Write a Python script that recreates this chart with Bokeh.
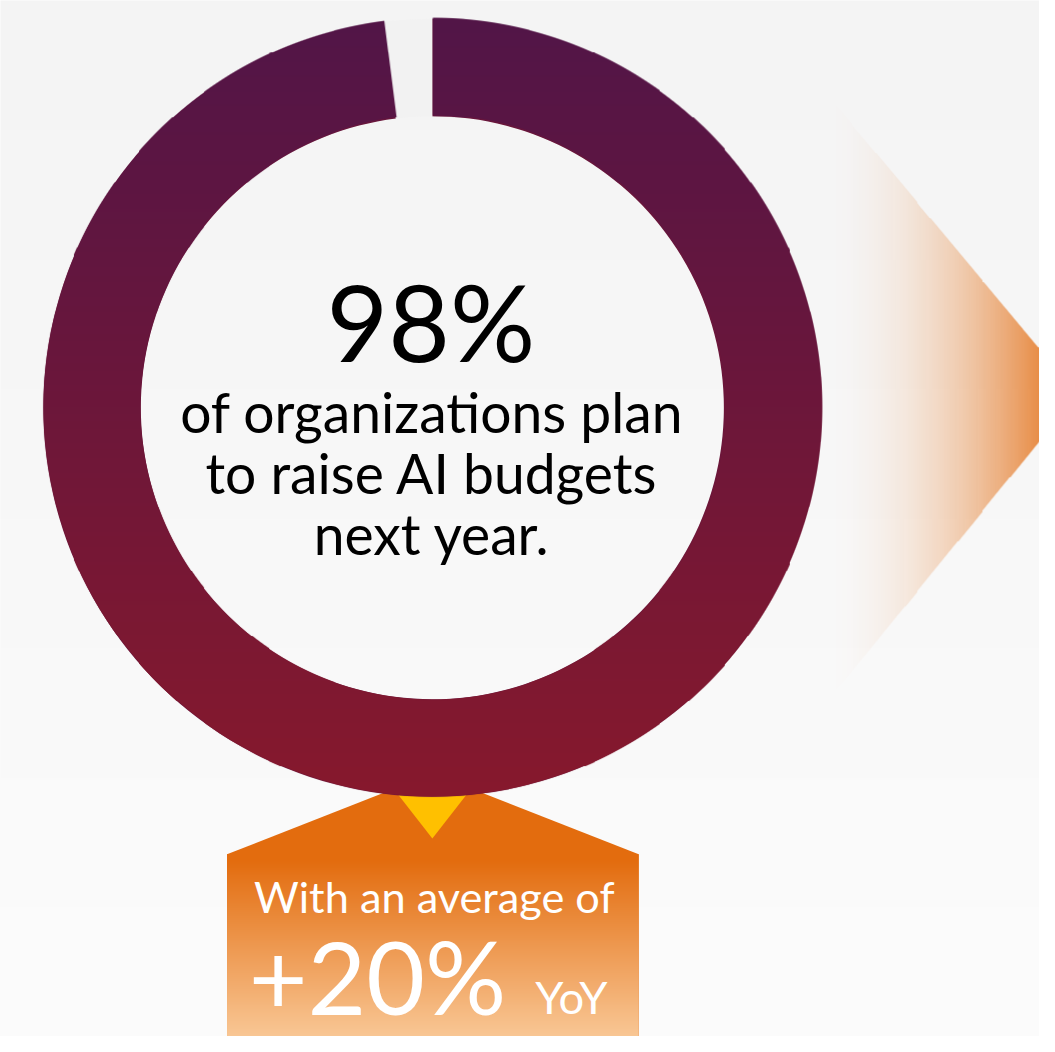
import numpy as np
from bokeh.plotting import figure
from bokeh.models import ColumnDataSource
from bokeh.core.properties import value
from bokeh.embed import file_html
from bokeh.resources import INLINE

# ---------------- data ----------------
share_labels = ["Plan to raise AI budgets", "Do not plan to raise"]
share_values = [98, 2]
headline_text = ["98%"]
body_lines = ["of organizations plan", "to raise AI budgets", "next year."]
avg_intro = ["With an average of"]
avg_value = ["+20%"]
avg_unit = ["YoY"]

# ---------------- canvas ----------------
W, H = 1039, 1036
RW, RH = 1055, 1052          # design space (reference pixels)
K = W / RW                    # px per design unit


def Y(sy):
    return RH - sy


def hexrgb(h):
    return np.array([int(h[i:i + 2], 16) for i in (1, 3, 5)], dtype=float)


def rgba_image(rgb, a):
    h, w = a.shape
    img = np.empty((h, w), dtype=np.uint32)
    v = img.view(dtype=np.uint8).reshape((h, w, 4))
    v[..., 0] = np.broadcast_to(rgb[..., 0], (h, w)).astype(np.uint8)
    v[..., 1] = np.broadcast_to(rgb[..., 1], (h, w)).astype(np.uint8)
    v[..., 2] = np.broadcast_to(rgb[..., 2], (h, w)).astype(np.uint8)
    v[..., 3] = np.clip(a * 255, 0, 255).astype(np.uint8)
    return img


def grid(x0, x1, y0, y1):
    xs = np.arange(x0, x1) + 0.5
    ys = np.arange(y1, y0, -1) - 0.5  # bottom row first
    return np.meshgrid(xs, ys)


def vgrad(sy, y0, y1, c0, c1):
    t = np.clip((sy - y0) / (y1 - y0), 0, 1)[..., None]
    return hexrgb(c0) * (1 - t) + hexrgb(c1) * t


p = figure(width=W, height=H, x_range=(0, RW), y_range=(0, RH),
           output_backend="svg", toolbar_location=None, min_border=0,
           x_axis_location=None, y_axis_location=None,
           background_fill_color="#f7f7f7", border_fill_color="#f7f7f7",
           outline_line_color=None)
p.grid.visible = False

# background soft gradient
X, S = grid(0, 1, 0, RH)
bg = vgrad(S, 0, RH, "#f4f4f4", "#fcfcfc")
p.image_rgba(image=[rgba_image(bg, np.ones_like(S))], x=0, y=0, dw=RW, dh=RH)

# right arrow (fading orange triangle), tip just past the right edge
X, S = grid(700, RW, 40, 780)
st, sb = 1.20, 1.23
y_top = 355 - (RW - X) * st
y_bot = 447 + (RW - X) * sb
d_top = (S - y_top) / np.sqrt(1 + st ** 2)
d_bot = (y_bot - S) / np.sqrt(1 + sb ** 2)
aa = np.clip(np.minimum(d_top, d_bot) + 0.5, 0, 1)
f = np.clip((X - 832) / 238, 0, 1)
tri_rgb = np.broadcast_to(hexrgb("#e57d2c"), X.shape + (3,))
p.image_rgba(image=[rgba_image(tri_rgb, f ** 2 * aa)], x=700, y=Y(780), dw=RW - 700, dh=740)

# bottom callout (pentagon) + gradient body
p.patch(x=[230, 439, 648, 648, 230], y=[Y(867), Y(785), Y(867), Y(RH), Y(RH)],
        fill_color="#e36c0e", line_color=None)
X, S = grid(230, 648, 867, RH)
cg = vgrad(S, 872, RH, "#e36c0e", "#f9c795")
p.image_rgba(image=[rgba_image(cg, np.ones_like(S))], x=230, y=0, dw=418, dh=RH - 867)

# yellow pointer
p.patch(x=[391, 486, 438.5], y=[Y(790), Y(790), Y(851)], fill_color="#ffc000", line_color=None)

# ---------------- donut ----------------
cx, cy = 438.5, 413.5
R_out, R_in = 395.0, 296.0
vals = np.array(share_values, dtype=float)
frac = vals / vals.sum()
cum = np.concatenate([[0], np.cumsum(frac)[:-1]])
start = np.pi / 2 - 2 * np.pi * cum
end = start - 2 * np.pi * frac
src = ColumnDataSource(dict(label=share_labels, value=share_values, start=start, end=end,
                            color=["#6c173b", "#f2f2f2"]))
p.annular_wedge(x=cx, y=Y(cy), inner_radius=R_in, outer_radius=R_out,
                start_angle="start", end_angle="end", direction="clock",
                fill_color="color", line_color=None, source=src)

# vertical gradient over the main slice
X, S = grid(42, 835, 17, 810)
dx, dy = X - cx, -(S - cy)
r = np.hypot(dx, dy)
theta = np.arctan2(dy, dx)
a_cw = np.mod(np.pi / 2 - theta, 2 * np.pi)
L0 = 2 * np.pi * frac[0]
inside = a_cw <= L0
d_ang = np.where(inside, np.minimum(a_cw, L0 - a_cw), -np.minimum(a_cw - L0, 2 * np.pi - a_cw)) * r
alpha = (np.clip(R_out - r + 0.5, 0, 1) * np.clip(r - R_in + 0.5, 0, 1)
         * np.clip(d_ang + 0.5, 0, 1))
dg = vgrad(S, 18, 808, "#521548", "#87192d")
p.image_rgba(image=[rgba_image(dg, alpha)], x=42, y=Y(810), dw=793, dh=793)

# ---------------- texts ----------------
FONT = value("Lato")
SH = 0.36  # compensation of the renderer's baseline placement (fraction of size)


def fs(sz):
    return f"{sz * K:.1f}px"


def base(sy, sz):
    return Y(sy - SH * sz)


p.text(x=[437], y=[base(364, 108)], text=headline_text, text_font=FONT, text_font_size=fs(108),
       text_align="center", text_baseline="alphabetic", text_color="#000000")
p.text(x=[438] * 3, y=[base(438, 56), base(500, 56), base(562, 56)], text=body_lines,
       text_font=FONT, text_font_size=fs(56), text_align="center",
       text_baseline="alphabetic", text_color="#000000")
p.text(x=[440.5], y=[base(925, 44)], text=avg_intro, text_font=FONT, text_font_size=fs(44),
       text_align="center", text_baseline="alphabetic", text_color="#ffffff")
p.text(x=[252], y=[base(1028, 103)], text=avg_value, text_font=FONT, text_font_size=fs(103),
       text_align="left", text_baseline="alphabetic", text_color="#ffffff")
p.text(x=[543], y=[base(1028, 46)], text=avg_unit, text_font=FONT, text_font_size=fs(46),
       text_align="left", text_baseline="alphabetic", text_color="#ffffff")

open("out.html", "w").write(file_html(p, INLINE))
